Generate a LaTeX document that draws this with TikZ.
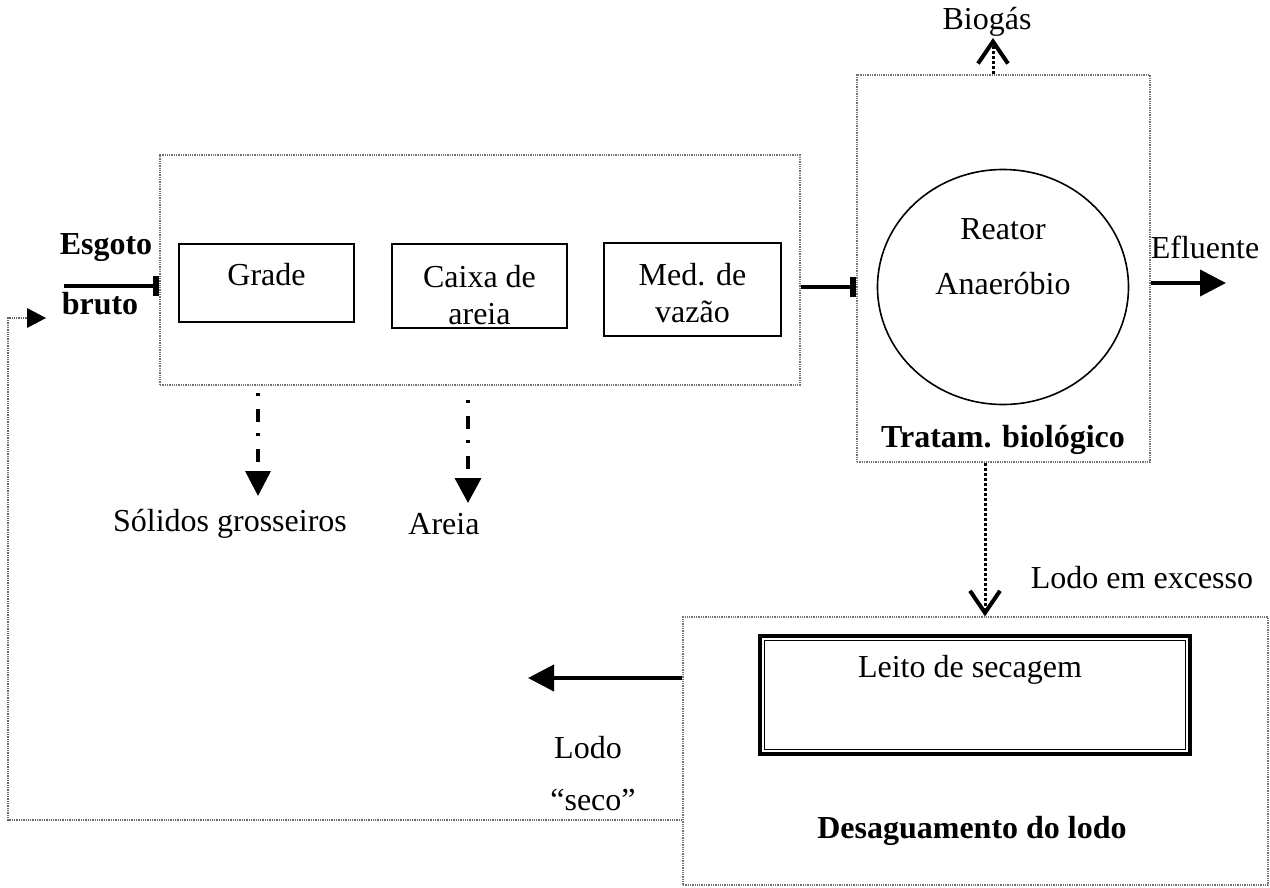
\documentclass[tikz,border=0pt]{standalone}
\usepackage{fontspec}
\setmainfont{Liberation Serif}
\usetikzlibrary{arrows.meta,shapes.geometric}
\begin{document}
\begin{tikzpicture}[x=1pt,y=-1pt,
  font=\fontsize{32}{37}\selectfont,
  dotbox/.style={draw=black!55, densely dotted, line width=1.3pt, inner sep=0pt},
  solidbox/.style={draw, line width=1.6pt, inner sep=0pt},
  txt/.style={inner sep=0pt, align=center},
  boldtxt/.style={txt, font=\fontsize{32}{37}\selectfont\bfseries},
  flow/.style={line width=4pt},
  bartip/.style={-{Rectangle[length=6pt,width=20pt]}},
  filltip/.style={-{Triangle[length=26pt,width=26pt]}},
  opentip/.style={-{Straight Barb[length=22pt,width=30pt,line width=4pt]}},
  dotflow/.style={line width=3pt, dotted},
  dashdotflow/.style={line width=3.5pt, dash pattern=on 3pt off 13pt on 13pt off 11pt},
  feedline/.style={draw=black!60, densely dotted, line width=1.3pt},
]
\useasboundingbox (0,0) rectangle (1270,888);

% boxes
\node[dotbox, minimum width=640pt, minimum height=230pt] (prep) at (480,270) {};
\node[solidbox, minimum width=175pt, minimum height=78pt] (grade) at (266.5,283) {};
\node[txt] (gradetxt) at (266.5,275) {Grade};
\node[solidbox, minimum width=175pt, minimum height=84pt] (caixa) at (479.5,286) {};
\node[txt] (caixatxt) at (479.5,295) {Caixa de\\areia};
\node[solidbox, minimum width=177pt, minimum height=93pt] (med) at (692.5,289.5) {};
\node[txt] (medtxt) at (692.5,293) {Med. de\\vazão};

\node[dotbox, minimum width=293pt, minimum height=387pt] (trat) at (1003.5,268.5) {};
\node[draw, ellipse, line width=1.6pt, minimum width=251pt, minimum height=235pt, inner sep=0pt] (reator) at (1003,287) {};
\node[txt, font=\fontsize{32}{55}\selectfont] (reatortxt) at (1003,257) {Reator\\Anaeróbio};
\node[boldtxt] (tratlbl) at (1003,440) {Tratam. biológico};

\node[dotbox, minimum width=585pt, minimum height=268pt] (desag) at (975.5,751) {};
\node[draw, line width=3.5pt, minimum width=430pt, minimum height=118pt, inner sep=0pt] (leito) at (975,695) {};
\draw[line width=1.3pt] ([shift={(6,6)}]leito.north west) rectangle ([shift={(-6,-6)}]leito.south east);
\node[txt] (leitotxt) at (970,670) {Leito de secagem};
\node[boldtxt] (desaglbl) at (972,831) {Desaguamento do lodo};

% labels
\node[boldtxt] (esgoto) at (106,248) {Esgoto};
\node[boldtxt] (bruto) at (100,304) {bruto};
\node[txt] (biogas) at (987,22) {Biogás};
\node[txt] (efluente) at (1205,247) {Efluente};
\node[txt] (solidos) at (230,524) {Sólidos grosseiros};
\node[txt] (areia) at (444,524) {Areia};
\node[txt] (excesso) at (1142,578) {Lodo em excesso};
\node[txt] (lodo) at (588,748) {Lodo};
\node[txt] (seco) at (593,800) {“seco”};

% coordinates for free ends
\coordinate (esgin) at (64,286);
\coordinate (efl) at (1226,283);
\coordinate (bgx) at (993,38);
\coordinate (lx) at (985,0);
\coordinate (sx) at (258,496);
\coordinate (ax) at (468,503);
\coordinate (lodoend) at (528,678);
\coordinate (fbl) at (8,820);
\coordinate (fbt) at (46,318);

% connectors
\draw[flow, bartip] (esgin) -- (prep.west |- esgin);
\draw[flow, bartip] (prep.east |- 0,287) -- (trat.west |- 0,287);
\draw[flow, filltip] (trat.east |- efl) -- (efl);
\draw[dotflow, opentip] (trat.north -| bgx) -- (bgx);
\draw[dotflow, opentip] (trat.south -| lx) -- (desag.north -| lx);
\draw[dashdotflow, -{Triangle[length=25pt,width=25pt]}] ([yshift=-7pt]prep.south -| sx) -- (sx);
\draw[dashdotflow, -{Triangle[length=25pt,width=26pt]}] ([yshift=-14pt]prep.south -| ax) -- (ax);
\draw[flow, filltip] (desag.west |- lodoend) -- (lodoend);
\draw[feedline] (desag.west |- fbl) -- (fbl) -- (fbl |- fbt) -- ([xshift=-18pt]fbt);
\fill ([xshift=-19pt,yshift=10pt]fbt) -- (fbt) -- ([xshift=-19pt,yshift=-10pt]fbt) -- cycle;
\end{tikzpicture}
\end{document}
